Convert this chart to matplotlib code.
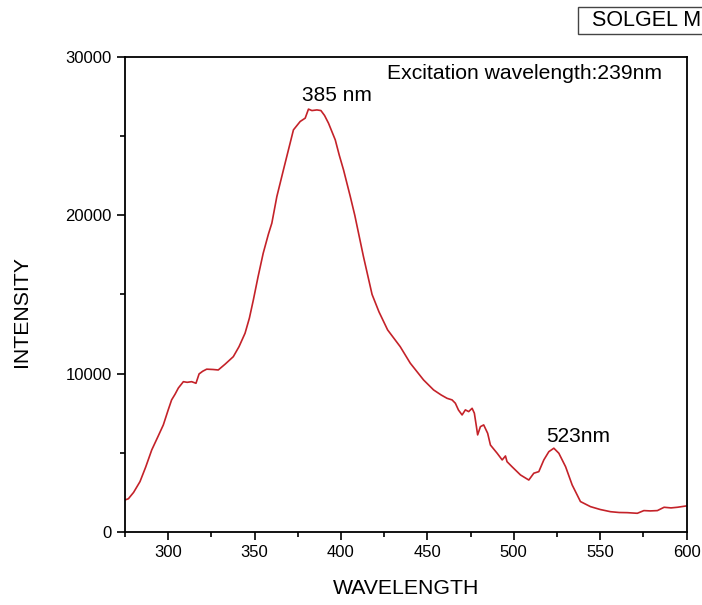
#Photoluminescence spectrum of the sol-gel sample (excitation at 239 nm)
#Values

from matplotlib import pyplot as plt
from matplotlib import patches as mp
from matplotlib.ticker import MultipleLocator

plt.rcParams['font.family'] = ['Liberation Sans', 'DejaVu Sans']

wavelength = [275, 277, 280, 283.7, 287, 290.5, 294, 297.2, 300, 302, 304, 305.9, 308.8,
              311, 313.6, 316.1, 317.9, 320, 322.3, 326, 329, 333, 337.7, 341, 344.5,
              347, 349.3, 352, 355, 358, 360, 362.9, 366.7, 370, 372.5, 376.4, 379.3,
              381.2, 383.2, 386.1, 388.4, 390.5, 392.8, 396.7, 399, 401.5, 405.4, 408,
              413, 418, 422, 427, 434.3, 440.1, 447.8, 453.6, 458, 461.4, 464.3, 466.2,
              468, 470.1, 472, 473.9, 475.9, 477.2, 478.4, 479.1, 480.7, 482.6, 484.9,
              486.5, 490.4, 493.3, 495.2, 496.1, 499, 503.9, 508.7, 511.6, 514.5, 517.4,
              520.3, 523.2, 526.1, 530, 533.8, 538.6, 544.4, 550, 556, 561, 565.7, 571.5,
              575.3, 579, 583.1, 587, 591, 594.7, 599.6]
intensity = [2020, 2100, 2500, 3180, 4100, 5180, 6000, 6760, 7700, 8340, 8700, 9090, 9490,
             9450, 9490, 9390, 9980, 10150, 10280, 10260, 10230, 10600, 11070, 11700, 12550,
             13500, 14650, 16100, 17600, 18800, 19500, 21180, 22860, 24300, 25390, 25920, 26130,
             26700, 26610, 26650, 26610, 26300, 25810, 24760, 23800, 22860, 21180, 20000,
             17400, 15000, 13900, 12760, 11700, 10660, 9600, 8970, 8650, 8440, 8340, 8130,
             7700, 7390, 7710, 7600, 7810, 7500, 6650, 6130, 6650, 6760, 6230,
             5490, 4970, 4550, 4800, 4440, 4120, 3600, 3280, 3710, 3810, 4550,
             5070, 5290, 4970, 4120, 2970, 1920, 1600, 1420, 1280, 1230, 1220, 1180,
             1350, 1330, 1350, 1560, 1520, 1560, 1640]

peak_labels = ['385 nm', '523nm']
peak_pos = [(397.8, 26950), (537.5, 5450)]

fig = plt.figure(figsize=(7.02, 6.05), dpi=100)
ax = fig.add_axes([0.178, 0.1207, 0.8, 0.7853])

ax.plot(wavelength, intensity, color='#c42229', linewidth=1.2)

ax.set_xlim(275, 600)
ax.set_ylim(0, 30000)
ax.xaxis.set_major_locator(MultipleLocator(50))
ax.xaxis.set_minor_locator(MultipleLocator(25))
ax.yaxis.set_major_locator(MultipleLocator(10000))
ax.yaxis.set_minor_locator(MultipleLocator(5000))
ax.tick_params(which='both', direction='out', width=1.2, labelsize=12, top=False, right=False)
ax.tick_params(which='major', length=6)
ax.tick_params(which='minor', length=3.5)
for s in ax.spines.values():
    s.set_linewidth(1.3)

ax.set_xlabel('WAVELENGTH', fontsize=15.3)
ax.set_ylabel('INTENSITY', fontsize=15.3)
ax.xaxis.set_label_coords(0.5, -0.1)
ax.yaxis.set_label_coords(-0.168, 0.465)

for lab, (x, y) in zip(peak_labels, peak_pos):
    ax.text(x, y, lab, fontsize=15, ha='center', va='bottom')

ax.text(0.956, 0.965, 'Excitation wavelength:239nm', transform=ax.transAxes,
        fontsize=15.2, ha='right', va='center')

#legend box runs off the right edge, as in the original
fig.patches.append(mp.Rectangle((0.8234, 0.9438), 0.25, 0.0446, transform=fig.transFigure,
                                facecolor='white', edgecolor='#444444', linewidth=1))
fig.text(0.843, 0.966, 'SOLGEL METHOD', fontsize=15.5, ha='left', va='center')

plt.savefig('out.png', dpi=100)
